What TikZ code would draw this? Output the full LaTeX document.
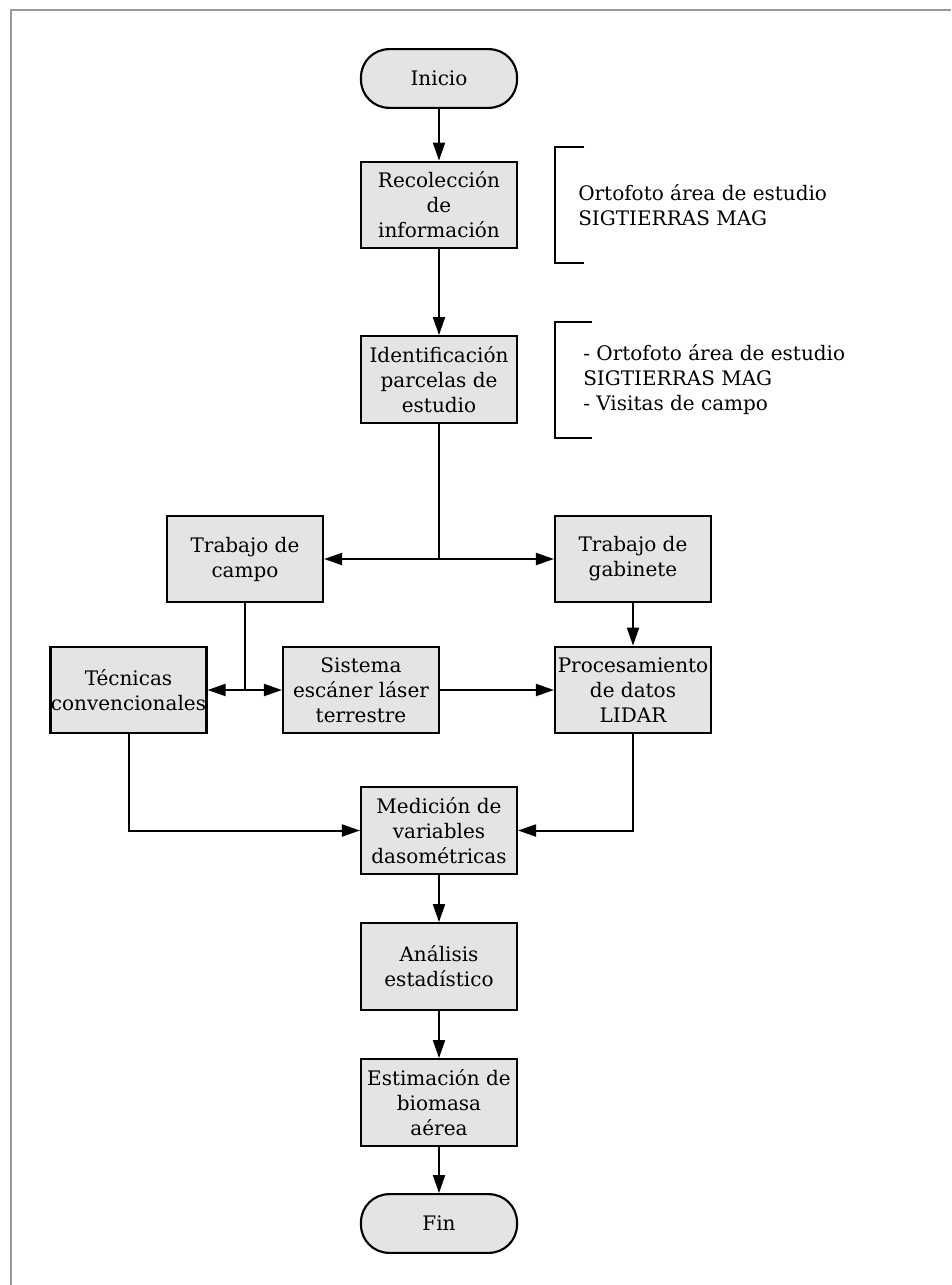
\documentclass[tikz,border=0pt]{standalone}
\usepackage{fontspec}
\setmainfont{DejaVu Serif}
\usetikzlibrary{arrows.meta}

\begin{document}
\begin{tikzpicture}[x=0.75pt,y=-0.75pt,
		box/.style={draw=black,line width=1.6pt,fill=boxgray,minimum width=117pt,minimum height=65pt,inner sep=0pt,align=center,font=\fontsize{15}{18.75}\selectfont},
		ends/.style={box,rounded corners=21pt,minimum height=44pt},
		note/.style={anchor=west,align=left,inner sep=0pt,font=\fontsize{15}{18.75}\selectfont},
		flow/.style={line width=1.5pt,-{Triangle[length=13.5pt,width=9pt]}},
		both/.style={line width=1.5pt,{Triangle[length=13.5pt,width=9pt]}-{Triangle[length=13.5pt,width=9pt]}},
		brk/.style={line width=1.7pt}]
	\definecolor{boxgray}{HTML}{E4E4E4}
	\useasboundingbox (0,0) rectangle (951,1285);
	\draw[line width=1.6pt,gray!80] (951,10) -- (11,10) -- (11,1285);
	\node[ends] (inicio) at (439,78.5) {Inicio};
	\node[box] (recol) at (439,205) {Recolección\\de\\información};
	\node[box] (ident) at (439,379.5) {Identificación\\parcelas de\\estudio};
	\node[box] (campo) at (245,559) {Trabajo de\\campo};
	\node[box] (gabin) at (633,559) {Trabajo de\\gabinete};
	\node[box] (tecn) at (128.5,690) {Técnicas\\convencionales};
	\node[box] (siste) at (361,690) {Sistema\\escáner láser\\terrestre};
	\node[box] (proce) at (633,690) {Procesamiento\\de datos\\LIDAR};
	\node[box] (medic) at (439,830.5) {Medición de\\variables\\dasométricas};
	\node[box] (anali) at (439,966.5) {Análisis\\estadístico};
	\node[box] (estim) at (439,1102.5) {Estimación de\\biomasa\\aérea};
	\node[ends] (fin) at (439,1223.5) {Fin};
	\node[note] (nota1) at (578,205) {Ortofoto área de estudio\\SIGTIERRAS MAG};
	\node[note] (nota2) at (583,380) {- Ortofoto área de estudio\\SIGTIERRAS MAG\\- Visitas de campo};
	\draw[brk] (584,147) -| (555,263) -- (584,263);
	\draw[brk] (592,322) -| (555,438) -- (592,438);
	\coordinate (j1) at (ident.south |- campo.east);
	\coordinate (j2) at (campo.south |- tecn.east);
	\draw[flow] (inicio) -- (recol);
	\draw[flow] (recol) -- (ident);
	\draw[line width=1.5pt] (ident) -- (j1);
	\draw[both] (campo) -- (gabin);
	\draw[line width=1.5pt] (campo) -- (j2);
	\draw[both] (tecn) -- (siste);
	\draw[flow] (gabin) -- (proce);
	\draw[flow] (siste) -- (proce);
	\draw[flow] (tecn.south) |- (medic.west);
	\draw[flow] (proce.south) |- (medic.east);
	\draw[flow] (medic) -- (anali);
	\draw[flow] (anali) -- (estim);
	\draw[flow] (estim) -- (fin);
\end{tikzpicture}
\end{document}
